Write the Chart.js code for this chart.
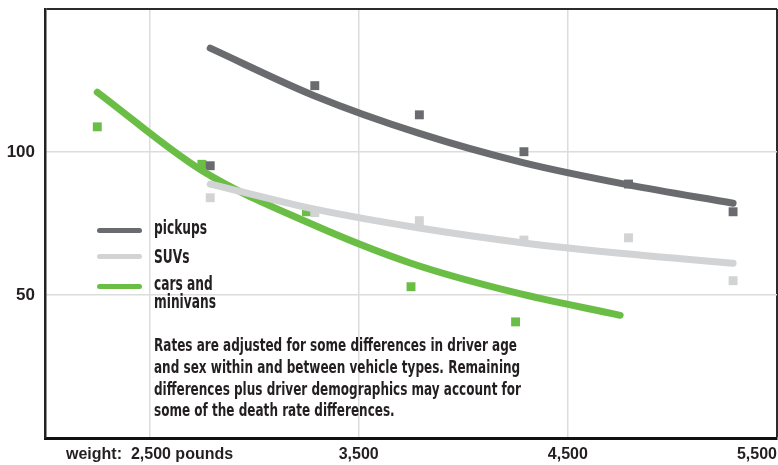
<!DOCTYPE html>
<html>
<head>
<meta charset="utf-8">
<script src="https://cdn.jsdelivr.net/npm/chart.js@4"></script>
<style>
  body { margin: 0; background: #fff; }
  #wrap { position: relative; width: 778px; height: 465px; }
  .txt { position: absolute; font-family: 'Liberation Sans Narrow', 'DejaVu Sans Condensed', sans-serif; font-weight: bold; color: #231f20; white-space: nowrap; transform-origin: 0 0; }
  .swatch { position: absolute; width: 45px; height: 5px; border-radius: 3px; }
</style>
</head>
<body>
<div id="wrap">
  <canvas id="chart" width="778" height="465"></canvas>
  <div class="swatch" style="left:97px;top:228px;background:#6a6b6f"></div>
  <div class="swatch" style="left:97px;top:254px;background:#d2d3d5"></div>
  <div class="swatch" style="left:97px;top:284px;background:#6bbe45"></div>
  <div class="txt legend" style="left:154px;top:218px;font-size:19px;line-height:18px">pickups</div>
  <div class="txt legend" style="left:154px;top:247px;font-size:19px;line-height:18px">SUVs</div>
  <div class="txt legend" id="minivans" style="left:154px;top:274px;font-size:19px;line-height:18px">cars and<br>minivans</div>
  <div class="txt" id="note" style="left:154px;top:334px;font-size:18.5px;line-height:21.8px">
    <div id="noteFirst" style="display:inline-block">Rates are adjusted for some differences in driver age</div><br>
    and sex within and between vehicle types. Remaining<br>
    differences plus driver demographics may account for<br>
    some of the death rate differences.
  </div>
</div>
<script>
(function() {
    // weights in pounds
    const carWeights = [2250, 2750, 3250, 3750, 4250];
    const carFitWeights = [2250, 2750, 3250, 3750, 4250, 4750];
    const truckWeights = [2790, 3290, 3790, 4290, 4790, 5290];

    // death rates
    const pickupRates = [95.2, 123.2, 113.0, 100.1, 88.8, 79.1];
    const pickupFit = [136.3, 119.6, 106.5, 96.2, 88.5, 82.1];
    const suvRates = [84.0, 78.8, 76.0, 69.2, 70.0, 55.0];
    const suvFit = [88.8, 80.0, 73.4, 68.2, 64.3, 61.1];
    const carRates = [108.8, 95.7, 79.1, 52.9, 40.6];
    const carFit = [120.9, 93.5, 75.6, 61.1, 50.8, 42.9];

    const xTicks = [2000, 2500, 3500, 4500, 5500];
    const xTickLabels = ['', 'weight:  2,500 pounds', '3,500', '4,500', '5,500'];
    const yTicks = [0, 50, 100, 150];
    const yTickLabels = ['', '50', '100', ''];

    const DARK = '#6a6b6f';
    const LIGHT = '#d2d3d5';
    const GREEN = '#6bbe45';
    const TICK_FONT = "'Liberation Sans', Arial, sans-serif";

    function pts(xs, ys) {
        return xs.map((x, i) => ({x: x, y: ys[i]}));
    }

    function fitLine(xs, ys, color, order) {
        return {
            data: pts(xs, ys),
            borderColor: color,
            borderWidth: 7,
            borderCapStyle: 'round',
            borderJoinStyle: 'round',
            cubicInterpolationMode: 'monotone',
            pointRadius: 0,
            order: order,
        };
    }

    function dots(xs, ys, color, order) {
        return {
            data: pts(xs, ys),
            showLine: false,
            pointStyle: 'rect',
            pointRadius: 6.3,
            pointBorderWidth: 0,
            pointBackgroundColor: color,
            order: order,
        };
    }

    const config = {
        type: 'line',
        data: {
            datasets: [
                fitLine(truckWeights, pickupFit, DARK, 1),
                fitLine(truckWeights, suvFit, LIGHT, 2),
                fitLine(carFitWeights, carFit, GREEN, 3),
                dots(truckWeights, pickupRates, DARK, 4),
                dots(truckWeights, suvRates, LIGHT, 5),
                dots(carWeights, carRates, GREEN, 6),
            ],
        },
        options: {
            responsive: false,
            animation: false,
            layout: {
                autoPadding: false,
                padding: {top: 9, right: 1, left: 0, bottom: 0},
            },
            scales: {
                x: {
                    type: 'linear',
                    min: 2000,
                    max: 5500,
                    afterBuildTicks: function(scale) {
                        scale.ticks = xTicks.map(v => ({value: v}));
                    },
                    afterFit: function(scale) {
                        scale.height = 27;
                    },
                    ticks: {
                        autoSkip: false,
                        maxRotation: 0,
                        align: 'inner',
                        padding: 0,
                        color: '#231f20',
                        font: {family: TICK_FONT, size: 16, weight: 'bold', lineHeight: 2.1},
                        callback: function(value, index) {
                            return xTickLabels[index];
                        },
                    },
                    grid: {
                        drawTicks: false,
                        color: ctx => ctx.tick && ctx.tick.value === 5500 ? '#2b2b2b' : (ctx.tick && ctx.tick.value === 2000 ? 'rgba(0,0,0,0)' : '#dcdcdc'),
                        lineWidth: ctx => ctx.tick && ctx.tick.value === 5500 ? 2.5 : 1.5,
                    },
                    border: {
                        color: '#111',
                        width: 3,
                    },
                },
                y: {
                    min: 0,
                    max: 150,
                    afterBuildTicks: function(scale) {
                        scale.ticks = yTicks.map(v => ({value: v}));
                    },
                    afterFit: function(scale) {
                        scale.width = 45;
                        scale.paddingTop = 0;
                        scale.paddingBottom = 0;
                    },
                    ticks: {
                        padding: 10,
                        color: '#231f20',
                        font: {family: TICK_FONT, size: 17, weight: 'bold'},
                        callback: function(value, index) {
                            return yTickLabels[index];
                        },
                    },
                    grid: {
                        drawTicks: false,
                        color: ctx => ctx.tick && ctx.tick.value === 150 ? '#2b2b2b' : (ctx.tick && ctx.tick.value === 0 ? 'rgba(0,0,0,0)' : '#dcdcdc'),
                        lineWidth: ctx => ctx.tick && ctx.tick.value === 150 ? 2 : 1.5,
                    },
                    border: {
                        color: '#222',
                        width: 2.5,
                    },
                },
            },
            plugins: {
                legend: {display: false},
                tooltip: {enabled: false},
            },
        },
    };

    new Chart(document.getElementById('chart'), config);

    // squeeze the condensed text to the reference widths
    const note = document.getElementById('note');
    const first = document.getElementById('noteFirst');
    note.style.transform = 'scaleX(' + (363 / first.getBoundingClientRect().width) + ')';
    const mini = document.getElementById('minivans');
    const k = 62 / mini.getBoundingClientRect().width;
    document.querySelectorAll('.legend').forEach(el => { el.style.transform = 'scaleX(' + k + ')'; });
})();
</script>
</body>
</html>
